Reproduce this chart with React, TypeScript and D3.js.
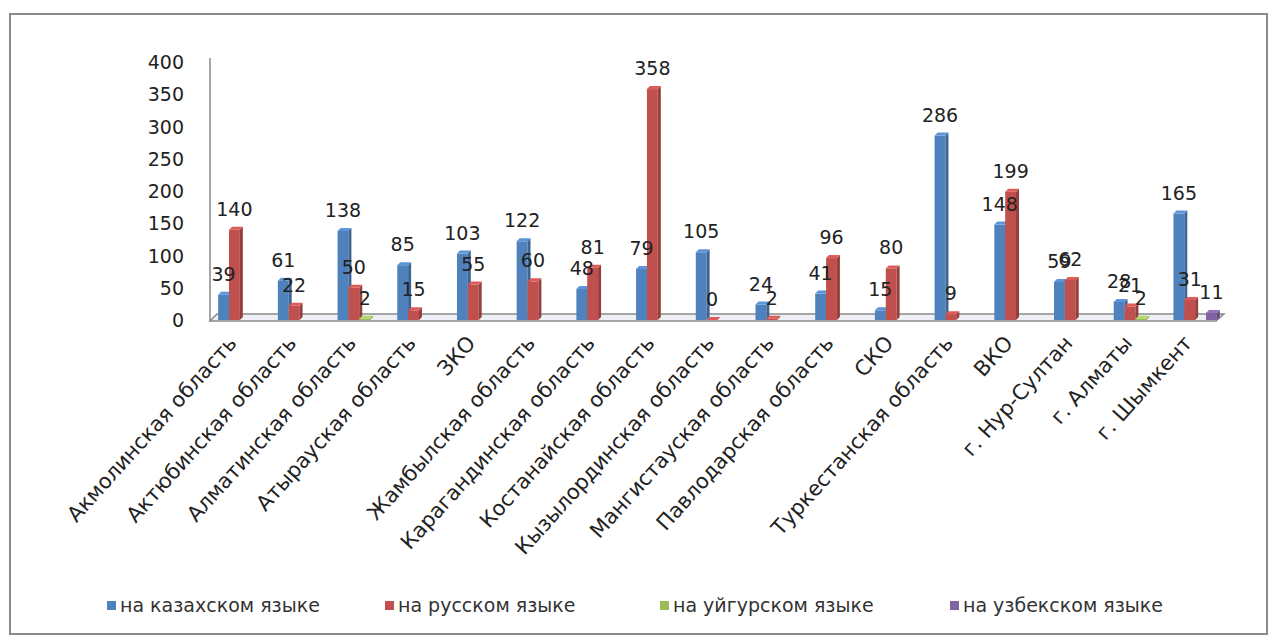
import * as d3 from 'd3'

const categories = [
  'Акмолинская область',
  'Актюбинская область',
  'Алматинская область',
  'Атырауская область',
  'ЗКО',
  'Жамбылская область',
  'Карагандинская область',
  'Костанайская область',
  'Кызылординская область',
  'Мангистауская область',
  'Павлодарская область',
  'СКО',
  'Туркестанская область',
  'ВКО',
  'г. Нур-Султан',
  'г. Алматы',
  'г. Шымкент',
]

const kazakh = [39, 61, 138, 85, 103, 122, 48, 79, 105, 24, 41, 15, 286, 148, 59, 28, 165]
const russian = [140, 22, 50, 15, 55, 60, 81, 358, 0, 2, 96, 80, 9, 199, 62, 21, 31]
const uyghur = [0, 0, 2, 0, 0, 0, 0, 0, 0, 0, 0, 0, 0, 0, 0, 2, 0]
const uzbek = [0, 0, 0, 0, 0, 0, 0, 0, 0, 0, 0, 0, 0, 0, 0, 0, 11]

const yTicks = [0, 50, 100, 150, 200, 250, 300, 350, 400]

const seriesNames = ['на казахском языке', 'на русском языке', 'на уйгурском языке', 'на узбекском языке']
const seriesColors = ['#4f81bd', '#c0504d', '#9bbb59', '#8064a2']
const seriesValues = [kazakh, russian, uyghur, uzbek]
// labels for the minor series only where a value exists
const alwaysLabel = [true, true, false, false]

const W = 1279
const H = 642
const font = '"DejaVu Sans", Verdana, sans-serif'

export default function App() {
  const x = d3.scaleBand<string>().domain(categories).range([210, 1225])
  const y = d3.scaleLinear().domain([0, 400]).range([320, 62])
  const bw = x.bandwidth() / 5.5
  const depth = 3

  const legendX = [107, 385, 660, 950]

  return (
    <svg width={W} height={H} style={{ position: 'absolute', left: 0, top: 0 }} fontFamily={font}>
      <rect x={10} y={14} width={1257} height={620} fill="#fff" stroke="#8c8c8c" strokeWidth={2} />

      {/* floor */}
      <polygon points={`210,321 1216,321 1224,314 217,314`} fill="#eef0f6" stroke="#8a8a8a" strokeWidth={1.5} />
      <line x1={210} y1={58} x2={210} y2={321} stroke="#8a8a8a" strokeWidth={1.5} />

      {yTicks.map(t => (
        <text key={t} x={184} y={y(t) + 7} textAnchor="end" fontSize={19} fill="#222">
          {t}
        </text>
      ))}

      {categories.map((c, i) => {
        const x0 = (x(c) ?? 0) + bw * 0.75
        return (
          <g key={c}>
            {seriesValues.map((vals, s) => {
              const v = vals[i]
              if (v === 0 && !alwaysLabel[s]) return null
              const bx = x0 + s * bw
              const top = y(v)
              const bot = y(0)
              const col = d3.color(seriesColors[s])!
              return (
                <g key={s}>
                  <rect x={bx} y={top} width={bw} height={bot - top} fill={seriesColors[s]} />
                  <polygon
                    points={`${bx + bw},${top} ${bx + bw + depth},${top - depth} ${bx + bw + depth},${bot - depth} ${bx + bw},${bot}`}
                    fill={col.darker(0.7).toString()}
                  />
                  <polygon
                    points={`${bx},${top} ${bx + depth},${top - depth} ${bx + bw + depth},${top - depth} ${bx + bw},${top}`}
                    fill={col.brighter(0.4).toString()}
                  />
                </g>
              )
            })}
          </g>
        )
      })}

      {categories.map((c, i) => {
        const x0 = (x(c) ?? 0) + bw * 0.75
        return (
          <g key={c + 'lbl'}>
            {seriesValues.map((vals, s) => {
              const v = vals[i]
              if (v === 0 && !alwaysLabel[s]) return null
              return (
                <text key={s} x={x0 + s * bw + bw / 2} y={y(v) - 14} textAnchor="middle" fontSize={19} fill="#222">
                  {v}
                </text>
              )
            })}
          </g>
        )
      })}

      {categories.map(c => {
        const cx = (x(c) ?? 0) + x.bandwidth() / 2
        return (
          <text
            key={c + 'cat'}
            transform={`translate(${cx - 2},${344}) rotate(-48)`}
            textAnchor="end"
            fontSize={21}
            fill="#222"
          >
            {c}
          </text>
        )
      })}

      {seriesNames.map((n, s) => (
        <g key={n} transform={`translate(${legendX[s]},606)`}>
          <rect x={0} y={-5} width={9} height={9} fill={seriesColors[s]} />
          <text x={13} y={6} fontSize={19} fill="#333">
            {n}
          </text>
        </g>
      ))}
    </svg>
  )
}
